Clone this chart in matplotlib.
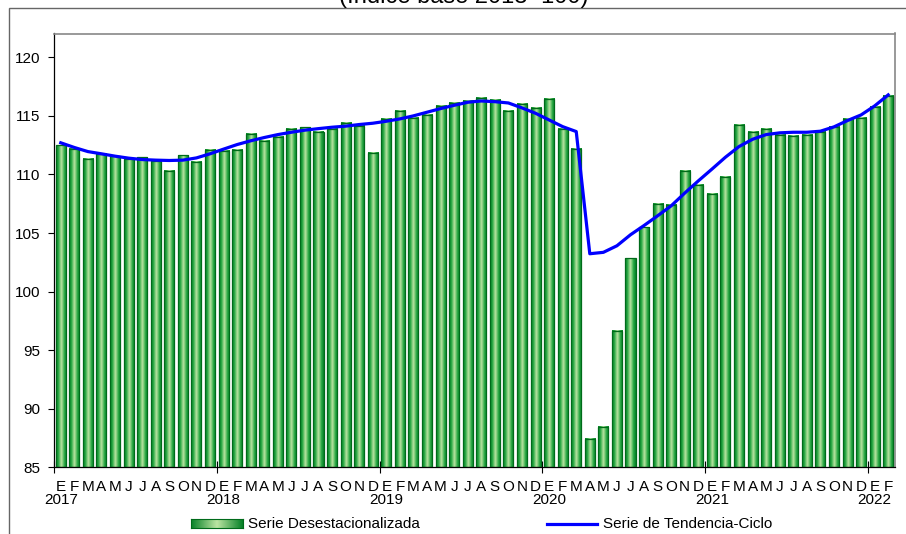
import numpy as np
import matplotlib
matplotlib.use('Agg')
import matplotlib.pyplot as plt
import matplotlib.transforms as mtransforms
from matplotlib.colors import LinearSegmentedColormap
from matplotlib.lines import Line2D
from matplotlib.patches import Rectangle

plt.rcParams['font.family'] = ['Liberation Sans', 'DejaVu Sans']

month_letters = ['E', 'F', 'M', 'A', 'M', 'J', 'J', 'A', 'S', 'O', 'N', 'D']
years = [2017, 2018, 2019, 2020, 2021, 2022]

serie_desest = [
    112.47, 112.19, 111.31, 111.74, 111.54, 111.34, 111.45, 111.17, 110.31, 111.62, 111.05, 112.10,
    112.00, 112.07, 113.47, 112.84, 113.18, 113.92, 114.01, 113.61, 113.87, 114.38, 114.15, 111.81,
    114.71, 115.41, 114.81, 115.08, 115.85, 116.08, 116.31, 116.50, 116.36, 115.40, 115.99, 115.71,
    116.42, 113.87, 112.16, 87.43, 88.42, 96.61, 102.83, 105.48, 107.47, 107.41, 110.31, 109.09,
    108.35, 109.77, 114.20, 113.60, 113.86, 113.38, 113.29, 113.38, 113.66, 114.08, 114.74, 114.80,
    115.74, 116.70,
]
tendencia_ciclo = [
    112.70, 112.30, 111.95, 111.76, 111.56, 111.39, 111.27, 111.22, 111.19, 111.22, 111.41, 111.76,
    112.16, 112.55, 112.87, 113.15, 113.40, 113.60, 113.78, 113.91, 114.03, 114.12, 114.26, 114.37,
    114.54, 114.74, 115.00, 115.31, 115.62, 115.90, 116.16, 116.27, 116.21, 116.10, 115.68, 115.22,
    114.65, 114.08, 113.66, 103.23, 103.35, 103.91, 104.85, 105.64, 106.47, 107.32, 108.41, 109.45,
    110.45, 111.47, 112.38, 113.00, 113.40, 113.55, 113.60, 113.60, 113.69, 114.06, 114.60, 115.08,
    115.85, 116.79,
]

n = len(serie_desest)
x = np.arange(n)
base = 85
top = 122.03
bar_w = 0.74

green_cmap = LinearSegmentedColormap.from_list(
    'bar_green', [(0.0, '#078228'), (0.22, '#27a743'), (0.5, '#bde5a3'),
                  (0.78, '#27a743'), (1.0, '#078228')])
grad = np.linspace(0, 1, 64).reshape(1, -1)

fig = plt.figure(figsize=(9.06, 5.34), dpi=100)
ax = fig.add_axes([54 / 906, 1 - 467.3 / 534, 841 / 906, (467.3 - 33.5) / 534])

for xi, v in zip(x, serie_desest):
    ax.imshow(grad, cmap=green_cmap, aspect='auto', interpolation='bilinear',
              extent=(xi - bar_w / 2, xi + bar_w / 2, base, v), zorder=2)
ax.bar(x, np.array(serie_desest) - base, bottom=base, width=bar_w,
       facecolor='none', edgecolor='#006b1a', linewidth=0.9, zorder=3)

ax.plot(x, tendencia_ciclo, color='#0000ff', linewidth=2.3, zorder=4)

ax.set_xlim(-0.5, n - 0.5)
ax.set_ylim(base, top)

ax.set_yticks(np.arange(85, 121, 5))
ax.tick_params(axis='y', direction='out', length=4, width=0.8, pad=6, labelsize=11)

# year boundary ticks
ax.set_xticks(np.arange(0, n, 12) - 0.5)
ax.set_xticklabels([])
ax.tick_params(axis='x', which='major', direction='inout', length=9, width=0.8)
# month letters on minor ticks
ax.set_xticks(x, minor=True)
ax.set_xticklabels([month_letters[i % 12] for i in range(n)], minor=True)
ax.tick_params(axis='x', which='minor', length=0, pad=9, labelsize=11)

# year labels under each January
trans = mtransforms.blended_transform_factory(ax.transData, fig.transFigure)
for k, yr in enumerate(years):
    ax.text(k * 12, 1 - 500 / 534, str(yr), transform=trans, ha='center',
            va='center', fontsize=11, clip_on=False)

for s in ['left', 'bottom']:
    ax.spines[s].set_color('black')
    ax.spines[s].set_linewidth(0.9)
for s in ['top', 'right']:
    ax.spines[s].set_color('#888888')
    ax.spines[s].set_linewidth(1.2)

# outer chart border (partially visible)
fig.patches.append(Rectangle((9 / 906, -0.1), 1.2, 1 - 8 / 534 + 0.1,
                             transform=fig.transFigure, fill=False,
                             edgecolor='#666666', linewidth=1.0))

fig.text(0.512, 1 - 2.5 / 534, '(Índice base 2013=100)', ha='center',
         va='baseline', fontsize=17)

# legend
leg_y = 1 - 523.5 / 534
lax = fig.add_axes([191 / 906, 1 - 528 / 534, 52 / 906, 9 / 534])
lax.imshow(np.linspace(0, 1, 64).reshape(1, -1),
           cmap=LinearSegmentedColormap.from_list('leg', ['#078228', '#bde5a3', '#078228']),
           aspect='auto', interpolation='bilinear')
lax.set_xticks([])
lax.set_yticks([])
for s in lax.spines.values():
    s.set_color('#006b1a')
fig.text(248 / 906, leg_y, 'Serie Desestacionalizada', ha='left', va='center', fontsize=11)
fig.add_artist(Line2D([547 / 906, 597 / 906], [leg_y, leg_y], color='#0000ff',
                      linewidth=2.3, transform=fig.transFigure))
fig.text(603 / 906, leg_y, 'Serie de Tendencia-Ciclo', ha='left', va='center', fontsize=11)

fig.savefig('out.png', dpi=100)
